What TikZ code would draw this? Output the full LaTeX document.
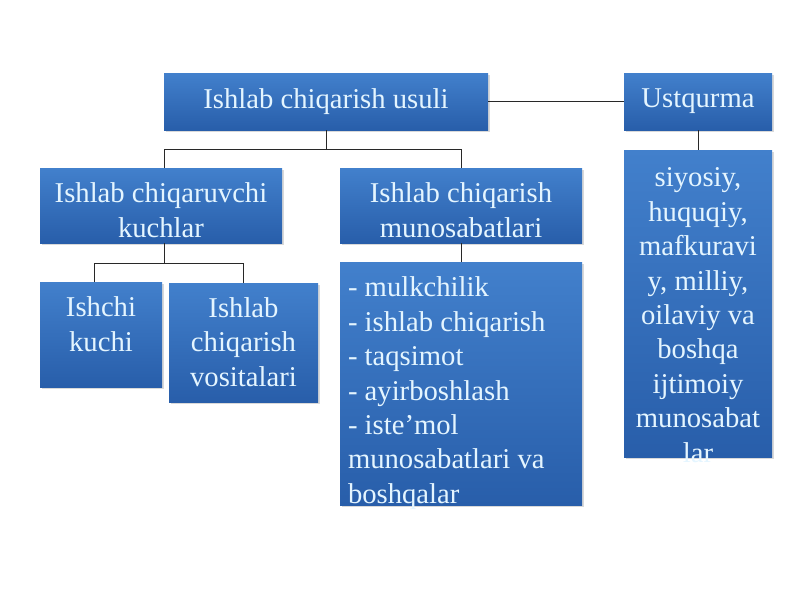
\documentclass[tikz,border=0pt]{standalone}
\usepackage{fontspec}
\setmainfont{Liberation Serif}
\usepackage{tikz}
\usetikzlibrary{positioning}
\usetikzlibrary{shadows}
\definecolor{blokyuqori}{RGB}{66,128,204}
\definecolor{blokpast}{RGB}{40,94,170}
\definecolor{matnrang}{RGB}{228,245,255}
\definecolor{chiziqrang}{RGB}{40,40,40}
\tikzset{blok/.style={ % Sets the properties for each box
			rectangle,
			top color=blokyuqori,
			bottom color=blokpast,
			drop shadow={shadow xshift=1.5pt, shadow yshift=-1.5pt, opacity=0.3},
			inner sep=0pt},
		matn/.style={ % white text inside the boxes
			text=matnrang,
			font=\fontsize{21.5}{25.8}\selectfont,
			align=center,
			inner sep=0pt},
		chiziq/.style={draw=chiziqrang, line width=0.75pt}}

\begin{document}
\begin{tikzpicture}[x=0.75pt,y=-0.75pt]
			\useasboundingbox (0,0) rectangle (800,600);
			\node[blok, matn, minimum width=243pt, minimum height=42.75pt] (A) at (326,101.5) {Ishlab chiqarish usuli};
			\node[blok, matn, minimum width=111pt, minimum height=42.75pt] (U) at (698,101.5) {Ustqurma};
			\node[blok, minimum width=181.5pt, minimum height=56.25pt] (B) at (161,205.5) {};
			\node[blok, minimum width=181.5pt, minimum height=56.25pt] (C) at (461,205.5) {};
			\node[blok, minimum width=91.5pt, minimum height=78.75pt] (D) at (101,334.5) {};
			\node[blok, minimum width=111.75pt, minimum height=89.25pt] (E) at (243.5,342.5) {};
			\node[blok, minimum width=181.5pt, minimum height=182.25pt] (F) at (461,383.5) {};
			\node[blok, minimum width=111pt, minimum height=230.25pt] (G) at (698,303.5) {};
			
			\node[matn, below=11.25pt of B.north] (Bt) {Ishlab chiqaruvchi\\kuchlar};
			\node[matn, below=11.25pt of C.north] (Ct) {Ishlab chiqarish\\munosabatlari};
			\node[matn, below=11.25pt of D.north] (Dt) {Ishchi\\kuchi};
			\node[matn, below=10.75pt of E.north] (Et) {Ishlab\\chiqarish\\vositalari};
			\node[matn, align=left, below right=11.25pt and 6pt of F.north west] (Ft) {- mulkchilik\\- ishlab chiqarish\\- taqsimot\\- ayirboshlash\\- iste’mol\\munosabatlari va\\boshqalar};
			\node[matn, below=13.5pt of G.north] (Gt) {siyosiy,\\huquqiy,\\mafkuravi\\y, milliy,\\oilaviy va\\boshqa\\ijtimoiy\\munosabat\\lar};
			
			\draw[chiziq] (A.east) -- (U.west);
			\draw[chiziq] (A.south) -- ++(0,19) -| ([xshift=2.25pt]B.north);
			\draw[chiziq] (A.south) ++(0,19) -| (C.north);
			\draw[chiziq] ([xshift=2.25pt]B.south) -- ++(0,20) -| ([xshift=-5.25pt]D.north);
			\draw[chiziq] ([xshift=2.25pt]B.south) ++(0,20) -| (E.north);
			\draw[chiziq] (C.south) -- (F.north);
			\draw[chiziq] (U.south) -- (G.north);
		\end{tikzpicture}
\end{document}
